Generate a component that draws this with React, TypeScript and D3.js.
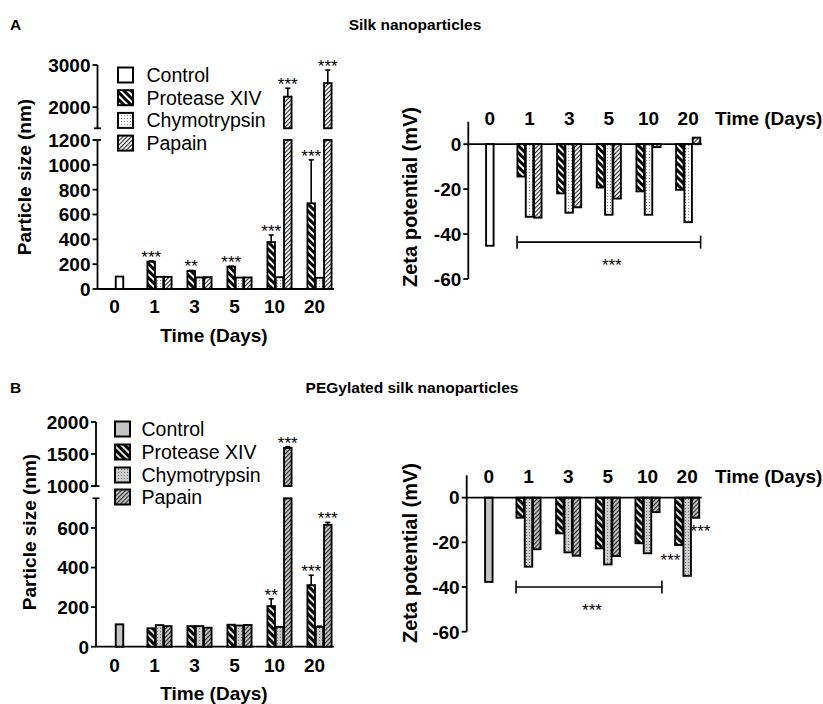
import * as d3 from "d3";

type Num = number | null;

const days = ["0", "1", "3", "5", "10", "20"];
const seriesNames = ["Control", "Protease XIV", "Chymotrypsin", "Papain"];

// A - silk nanoparticles, particle size (nm)
const sizeSilkControl: Num[] = [100, null, null, null, null, null];
const sizeSilkProtease: Num[] = [null, 220, 145, 180, 378, 690];
const sizeSilkProteaseErr: Num[] = [null, 6, 5, 3, 57, 350];
const sizeSilkProteaseStars = ["", "***", "**", "***", "***", "***"];
const sizeSilkChymo: Num[] = [null, 98, 93, 92, 95, 90];
const sizeSilkPapain: Num[] = [null, 98, 95, 93, 2250, 2570];
const sizeSilkPapainErr: Num[] = [null, 0, 0, 0, 200, 310];
const sizeSilkPapainStars = ["", "", "", "", "***", "***"];

// A - zeta potential (mV)
const zetaSilkControl: Num[] = [-45.2, null, null, null, null, null];
const zetaSilkProtease: Num[] = [null, -14.4, -21.9, -19.3, -21.0, -20.3];
const zetaSilkChymo: Num[] = [null, -32.3, -30.5, -31.4, -31.4, -34.7];
const zetaSilkPapain: Num[] = [null, -32.7, -28.1, -24.2, -1.3, 2.9];

// B - PEGylated silk nanoparticles, particle size (nm)
const sizePegControl: Num[] = [113, null, null, null, null, null];
const sizePegProtease: Num[] = [null, 93, 104, 111, 205, 311];
const sizePegProteaseErr: Num[] = [null, 0, 0, 0, 37, 50];
const sizePegProteaseStars = ["", "", "", "", "**", "***"];
const sizePegChymo: Num[] = [null, 109, 104, 107, 100, 100];
const sizePegChymoErr: Num[] = [null, 0, 0, 0, 0, 4];
const sizePegPapain: Num[] = [null, 104, 96, 110, 1595, 616];
const sizePegPapainErr: Num[] = [null, 0, 0, 0, 20, 12];
const sizePegPapainStars = ["", "", "", "", "***", "***"];

// B - zeta potential (mV)
const zetaPegControl: Num[] = [-37.7, null, null, null, null, null];
const zetaPegProtease: Num[] = [null, -9.0, -16.0, -22.7, -20.4, -21.2];
const zetaPegChymo: Num[] = [null, -30.9, -24.5, -29.9, -24.9, -35.0];
const zetaPegPapain: Num[] = [null, -23.1, -26.0, -26.1, -6.5, -9.0];

const FONT = "'Liberation Sans', Arial, Helvetica, sans-serif";
const BAR_STEP = 8.3;
const BAR_W = 7.5;
const BAR_STROKE = 1.9;

interface SeriesDef {
  name: string;
  values: Num[];
  err?: Num[];
  stars?: string[];
  fill: string;
}

function innerScale(x: d3.ScaleBand<string>, day: string, present: string[]) {
  const c = (x(day) as number) + x.bandwidth() / 2;
  const n = present.length;
  return d3
    .scaleBand<string>()
    .domain(present)
    .range([c - (n * BAR_STEP) / 2, c + (n * BAR_STEP) / 2]);
}

function SizePanel({ cfg, series }: { cfg: any; series: SeriesDef[] }) {
  const yLow = d3.scaleLinear().domain(cfg.lowDomain).range(cfg.lowRange);
  const yUp = d3.scaleLinear().domain(cfg.upDomain).range(cfg.upRange);
  const x = d3.scaleBand<string>().domain(days).range(cfg.xRange);
  const lowMax = cfg.lowDomain[1];
  const upMin = cfg.upDomain[0];
  const ax = cfg.axisX;

  const marks: any[] = [];
  days.forEach((day, di) => {
    const present = series.filter((s) => s.values[di] != null);
    const inner = innerScale(x, day, present.map((s) => s.name));
    present.forEach((s) => {
      const v = s.values[di] as number;
      const e = (s.err && s.err[di]) || 0;
      const bx = (inner(s.name) as number) + (BAR_STEP - BAR_W) / 2;
      const cx = bx + BAR_W / 2;
      let barTop: number;
      let errTop: number;
      const key = `${s.name}-${day}`;
      if (v <= lowMax) {
        barTop = yLow(v);
        errTop = yLow(v + e);
        marks.push(
          <rect key={key} x={bx} y={barTop} width={BAR_W} height={yLow(0) - barTop}
            fill={s.fill} stroke="#000" strokeWidth={BAR_STROKE} />
        );
      } else {
        barTop = yUp(v);
        errTop = yUp(v + e);
        marks.push(
          <rect key={key + "lo"} x={bx} y={yLow(lowMax)} width={BAR_W} height={yLow(0) - yLow(lowMax)}
            fill={s.fill} stroke="#000" strokeWidth={BAR_STROKE} />,
          <rect key={key + "up"} x={bx} y={barTop} width={BAR_W} height={yUp(upMin) - barTop}
            fill={s.fill} stroke="#000" strokeWidth={BAR_STROKE} />
        );
      }
      if (e > 0) {
        marks.push(
          <g key={key + "err"} stroke="#000" strokeWidth={1.6}>
            <line x1={cx} x2={cx} y1={barTop} y2={errTop} />
            <line x1={cx - 2.5} x2={cx + 2.5} y1={errTop} y2={errTop} />
          </g>
        );
      }
      const st = s.stars ? s.stars[di] : "";
      if (st) {
        marks.push(
          <text key={key + "st"} x={cx} y={errTop + 2} textAnchor="middle" fontSize={17}>
            {st}
          </text>
        );
      }
    });
  });

  return (
    <g fontFamily={FONT}>
      {/* y axis, broken */}
      <g stroke="#000" strokeWidth={1.8} fill="none">
        <line x1={ax} x2={ax} y1={yLow(0)} y2={yLow(lowMax)} />
        <line x1={ax - 3.5} x2={ax + 3.5} y1={yLow(lowMax)} y2={yLow(lowMax)} />
        <line x1={ax} x2={ax} y1={yUp(upMin)} y2={yUp(cfg.upDomain[1])} />
        <line x1={ax - 3.5} x2={ax + 3.5} y1={yUp(upMin)} y2={yUp(upMin)} />
        {cfg.lowTicks.map((t: number) => (
          <line key={"lt" + t} x1={ax - 5} x2={ax} y1={yLow(t)} y2={yLow(t)} />
        ))}
        {cfg.upTicks.map((t: number) => (
          <line key={"ut" + t} x1={ax - 5} x2={ax} y1={yUp(t)} y2={yUp(t)} />
        ))}
        <line x1={ax} x2={cfg.xAxisEnd} y1={yLow(0)} y2={yLow(0)} />
      </g>
      <g fontSize={19} fontWeight="bold" textAnchor="end">
        {cfg.lowTicks.map((t: number) => (
          <text key={"ll" + t} x={ax - 7} y={yLow(t)} dy="0.36em">{t}</text>
        ))}
        {cfg.upTicks.map((t: number) => (
          <text key={"ul" + t} x={ax - 7} y={yUp(t)} dy="0.36em">{t}</text>
        ))}
      </g>
      <g fontSize={19} fontWeight="bold" textAnchor="middle">
        {days.map((d) => (
          <text key={"xl" + d} x={(x(d) as number) + x.bandwidth() / 2 - 5} y={cfg.xLabelY}>{d}</text>
        ))}
        <text x={cfg.xTitleX} y={cfg.xTitleY}>Time (Days)</text>
        <text transform={`translate(${cfg.yTitleX},${cfg.yTitleY}) rotate(-90)`} dy="0.36em">
          Particle size (nm)
        </text>
      </g>
      {marks}
      {/* legend */}
      {series.map((s, i) => (
        <g key={"lg" + s.name}>
          <rect x={cfg.legendX} y={cfg.legendRows[i] - 7.5} width={15} height={15}
            fill={s.fill} stroke="#000" strokeWidth={2} />
          <text x={cfg.legendTextX} y={cfg.legendRows[i]} dy="0.36em" fontSize={19.5}>{s.name}</text>
        </g>
      ))}
    </g>
  );
}

function ZetaPanel({ cfg, series }: { cfg: any; series: SeriesDef[] }) {
  const y = d3.scaleLinear().domain([-60, 10]).range(cfg.yRange);
  const x = d3.scaleBand<string>().domain(days).range(cfg.xRange);
  const ax = cfg.axisX;
  const groups: Record<string, d3.ScaleBand<string>> = {};
  const marks: any[] = [];
  days.forEach((day, di) => {
    const present = series.filter((s) => s.values[di] != null);
    const inner = innerScale(x, day, present.map((s) => s.name));
    groups[day] = inner;
    present.forEach((s) => {
      const v = s.values[di] as number;
      const bx = (inner(s.name) as number) + (BAR_STEP - BAR_W) / 2;
      marks.push(
        <rect key={s.name + day} x={bx} y={Math.min(y(0), y(v))} width={BAR_W}
          height={Math.abs(y(v) - y(0))} fill={s.fill} stroke="#000" strokeWidth={BAR_STROKE} />
      );
    });
  });
  const g0 = groups[cfg.bracketFrom];
  const g1 = groups[cfg.bracketTo];
  const bx0 = g0.range()[0];
  const bx1 = g1.range()[1] + cfg.bracketPad;
  const by = y(cfg.bracketValue);

  return (
    <g fontFamily={FONT}>
      <g stroke="#000" strokeWidth={1.8}>
        <line x1={ax} x2={ax} y1={y(-60)} y2={y(10)} />
        {[0, -20, -40, -60].map((t) => (
          <line key={t} x1={ax - 5} x2={ax} y1={y(t)} y2={y(t)} />
        ))}
      </g>
      <g fontSize={19} fontWeight="bold" textAnchor="end">
        {[0, -20, -40, -60].map((t) => (
          <text key={t} x={ax - 7} y={y(t)} dy="0.36em">{t}</text>
        ))}
      </g>
      <g fontSize={19} fontWeight="bold" textAnchor="middle">
        {days.map((d) => (
          <text key={d} x={(x(d) as number) + x.bandwidth() / 2} y={cfg.dayLabelY}>{d}</text>
        ))}
      </g>
      <text x={cfg.timeX} y={cfg.dayLabelY} fontSize={19} fontWeight="bold">Time (Days)</text>
      <text transform={`translate(${cfg.yTitleX},${cfg.yTitleY}) rotate(-90)`} dy="0.36em"
        fontSize={20} fontWeight="bold" textAnchor="middle">
        Zeta potential (mV)
      </text>
      {marks}
      <line x1={ax} x2={cfg.zeroEnd} y1={y(0)} y2={y(0)} stroke="#000" strokeWidth={1.8} />
      <g stroke="#000" strokeWidth={1.6}>
        <line x1={bx0} x2={bx1} y1={by} y2={by} />
        <line x1={bx0} x2={bx0} y1={by - 6.5} y2={by + 6.5} />
        <line x1={bx1} x2={bx1} y1={by - 6.5} y2={by + 6.5} />
      </g>
      <text x={(bx0 + bx1) / 2 + 3} y={by + 29} textAnchor="middle" fontSize={17}>***</text>
      {(cfg.notes || []).map((n: any, i: number) => {
        const g = groups[n.day];
        const c = (g.range()[0] + g.range()[1]) / 2;
        return (
          <text key={"n" + i} x={c + n.dx} y={y(n.value)} textAnchor="middle" fontSize={17}>***</text>
        );
      })}
    </g>
  );
}

const silkSeries: SeriesDef[] = [
  { name: seriesNames[0], values: sizeSilkControl, fill: "#fff" },
  { name: seriesNames[1], values: sizeSilkProtease, err: sizeSilkProteaseErr, stars: sizeSilkProteaseStars, fill: "url(#protS)" },
  { name: seriesNames[2], values: sizeSilkChymo, fill: "url(#chyS)" },
  { name: seriesNames[3], values: sizeSilkPapain, err: sizeSilkPapainErr, stars: sizeSilkPapainStars, fill: "url(#papS)" },
];
const pegSeries: SeriesDef[] = [
  { name: seriesNames[0], values: sizePegControl, fill: "#c4c4c4" },
  { name: seriesNames[1], values: sizePegProtease, err: sizePegProteaseErr, stars: sizePegProteaseStars, fill: "url(#protP)" },
  { name: seriesNames[2], values: sizePegChymo, err: sizePegChymoErr, fill: "url(#chyP)" },
  { name: seriesNames[3], values: sizePegPapain, err: sizePegPapainErr, stars: sizePegPapainStars, fill: "url(#papP)" },
];
const zetaSilkSeries: SeriesDef[] = [
  { name: seriesNames[0], values: zetaSilkControl, fill: "#fff" },
  { name: seriesNames[1], values: zetaSilkProtease, fill: "url(#protS)" },
  { name: seriesNames[2], values: zetaSilkChymo, fill: "url(#chyS)" },
  { name: seriesNames[3], values: zetaSilkPapain, fill: "url(#papS)" },
];
const zetaPegSeries: SeriesDef[] = [
  { name: seriesNames[0], values: zetaPegControl, fill: "#c4c4c4" },
  { name: seriesNames[1], values: zetaPegProtease, fill: "url(#protP)" },
  { name: seriesNames[2], values: zetaPegChymo, fill: "url(#chyP)" },
  { name: seriesNames[3], values: zetaPegPapain, fill: "url(#papP)" },
];

const sizeSilkCfg = {
  axisX: 97.5, xRange: [99.5, 339.5], xAxisEnd: 334,
  lowDomain: [0, 1200], lowRange: [289, 140], upDomain: [1500, 3000], upRange: [128.3, 65],
  lowTicks: [0, 200, 400, 600, 800, 1000, 1200], upTicks: [2000, 3000],
  legendX: 118, legendRows: [75, 97.7, 120.4, 143.1], legendTextX: 146.5,
  xLabelY: 313, xTitleX: 214, xTitleY: 342, yTitleX: 24, yTitleY: 177,
};
const sizePegCfg = {
  axisX: 96, xRange: [99.5, 339.5], xAxisEnd: 334,
  lowDomain: [0, 750], lowRange: [646.7, 498.3], upDomain: [1000, 2000], upRange: [486, 422],
  lowTicks: [0, 200, 400, 600], upTicks: [1000, 1500, 2000],
  legendX: 115, legendRows: [429, 452, 475, 497], legendTextX: 141.5,
  xLabelY: 672, xTitleX: 214, xTitleY: 700, yTitleX: 29, yTitleY: 532,
};
const zetaSilkCfg = {
  axisX: 468.3, xRange: [470, 708], yRange: [279, 121.7], zeroEnd: 701.7,
  dayLabelY: 125, timeX: 715, yTitleX: 410, yTitleY: 197,
  bracketFrom: "1", bracketTo: "20", bracketPad: 0, bracketValue: -43.6,
};
const zetaPegCfg = {
  axisX: 466.7, xRange: [469, 707], yRange: [631.7, 475.3], zeroEnd: 701.7,
  dayLabelY: 483, timeX: 715, yTitleX: 410, yTitleY: 553,
  bracketFrom: "1", bracketTo: "10", bracketPad: 2, bracketValue: -40,
  notes: [
    { day: "20", dx: -16.7, value: -30.8 },
    { day: "20", dx: 13.3, value: -17.4 },
  ],
};

function Patterns() {
  return (
    <defs>
      <pattern id="protS" patternUnits="userSpaceOnUse" width="5" height="5" patternTransform="rotate(-45)">
        <rect width="5" height="5" fill="#000" />
        <rect width="2" height="5" fill="#fff" />
      </pattern>
      <pattern id="protP" patternUnits="userSpaceOnUse" width="5" height="5" patternTransform="rotate(-45)">
        <rect width="5" height="5" fill="#000" />
        <rect width="2" height="5" fill="#e0e0e0" />
      </pattern>
      <pattern id="chyS" patternUnits="userSpaceOnUse" width="3" height="3">
        <rect width="3" height="3" fill="#fff" />
        <rect x="1" y="1" width="1" height="1" fill="#8a8a8a" />
      </pattern>
      <pattern id="chyP" patternUnits="userSpaceOnUse" width="3" height="3">
        <rect width="3" height="3" fill="#cdcdcd" />
        <rect x="1" y="1" width="1" height="1" fill="#707070" />
      </pattern>
      <pattern id="papS" patternUnits="userSpaceOnUse" width="3" height="3" patternTransform="rotate(45)">
        <rect width="3" height="3" fill="#fff" />
        <rect width="1.1" height="3" fill="#2a2a2a" />
      </pattern>
      <pattern id="papP" patternUnits="userSpaceOnUse" width="3" height="3" patternTransform="rotate(45)">
        <rect width="3" height="3" fill="#c4c4c4" />
        <rect width="1.1" height="3" fill="#2a2a2a" />
      </pattern>
    </defs>
  );
}

export default function App() {
  return (
    <div style={{ position: "absolute", left: 0, top: 0 }}>
      <svg width={823} height={704} style={{ display: "block", background: "#fff" }}>
        <Patterns />
        <g fontFamily={FONT} fontWeight="bold" fontSize={15.5}>
          <text x={10} y={30}>A</text>
          <text x={415} y={30} textAnchor="middle">Silk nanoparticles</text>
          <text x={10} y={393}>B</text>
          <text x={412} y={393} textAnchor="middle">PEGylated silk nanoparticles</text>
        </g>
        <SizePanel cfg={sizeSilkCfg} series={silkSeries} />
        <ZetaPanel cfg={zetaSilkCfg} series={zetaSilkSeries} />
        <SizePanel cfg={sizePegCfg} series={pegSeries} />
        <ZetaPanel cfg={zetaPegCfg} series={zetaPegSeries} />
      </svg>
    </div>
  );
}
